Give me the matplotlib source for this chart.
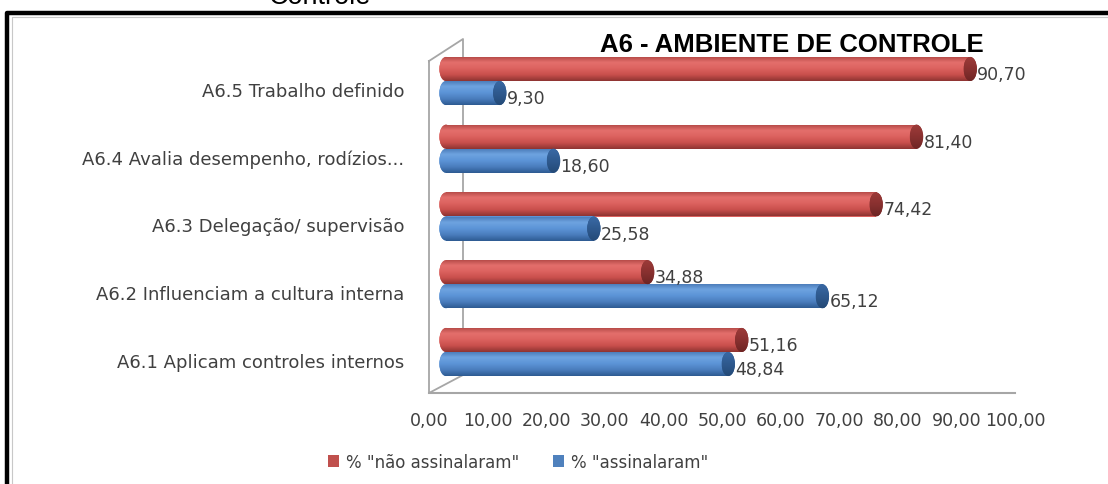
import numpy as np
import matplotlib
matplotlib.use("Agg")
import matplotlib.pyplot as plt
from matplotlib.patches import Ellipse, Patch
from matplotlib.lines import Line2D
from matplotlib.colors import to_rgb
from matplotlib.transforms import ScaledTranslation

# ---------------- data ----------------
categories = [
    "A6.1 Aplicam controles internos",
    "A6.2 Influenciam a cultura interna",
    "A6.3 Delegação/ supervisão",
    "A6.4 Avalia desempenho, rodízios...",
    "A6.5 Trabalho definido",
]
nao_assinalaram = [51.16, 34.88, 74.42, 81.40, 90.70]
assinalaram = [48.84, 65.12, 25.58, 18.60, 9.30]
series_names = ['% "não assinalaram"', '% "assinalaram"']
x_ticks = [0, 10, 20, 30, 40, 50, 60, 70, 80, 90, 100]
title = "A6 - AMBIENTE DE CONTROLE"
top_text = "Controle"

# ---------------- layout ----------------
W, H = 1108, 485
DPI = 100
fig = plt.figure(figsize=(W / DPI, H / DPI), dpi=DPI)
fig.patch.set_facecolor("white")


def fx(x):
    return x / W


def fy(y):
    return 1 - y / H


RED = "#C0504D"
BLUE = "#4F81BD"
red_stops = ["#B04643", "#E46F6C", "#DC625F", "#C94F4C", "#8E3432"]
blue_stops = ["#4777B4", "#6EA3E0", "#5C94D7", "#4A7DBD", "#2E5B92"]
red_cap = ["#9E3C3A", "#8A3130", "#6E2524"]
blue_cap = ["#3A6AA6", "#2F5A8F", "#244A77"]


def gradient(stops, n=64):
    cols = np.array([to_rgb(c) for c in stops])
    pos = np.linspace(0, 1, len(stops))
    t = np.linspace(0, 1, n)
    arr = np.stack([np.interp(t, pos, cols[:, k]) for k in range(3)], axis=1)
    return arr[:, None, :]


# main (bars) axes: x=0 -> px 446, x=100 -> px 1024; y group centres 353 .. 82
scale = (1024 - 446) / 100.0
xmin = -1.4
ax_left, ax_right = 446 + xmin * scale, 1024
ylo, yhi = -0.6, 4.6
pitch = 67.75
y0px = 353
top_px = y0px - pitch * yhi
bot_px = y0px - pitch * ylo
ax = fig.add_axes([fx(ax_left), fy(bot_px), (ax_right - ax_left) / W, (bot_px - top_px) / H])
ax.set_facecolor("none")
for s in ax.spines.values():
    s.set_visible(False)
ax.set_xticks([])

bar_h = 0.355
rx = 1.15  # half-width of end caps in data units

# 3D side wall and floor (decoration)
wall = [(429, 62), (463, 40), (463, 376), (429, 394), (429, 62)]
fig.add_artist(Line2D([fx(p[0]) for p in wall], [fy(p[1]) for p in wall],
                      color="#A6A6A6", lw=1.3, transform=fig.transFigure, zorder=0))

# floor axis with tick labels
ax2 = fig.add_axes([fx(429), fy(394), (1015 - 429) / W, 0.5 / H], zorder=-1)
ax2.set_xlim(0, 100)
ax2.patch.set_visible(False)
for k in ["top", "left", "right"]:
    ax2.spines[k].set_visible(False)
ax2.spines["bottom"].set_color("#A6A6A6")
ax2.spines["bottom"].set_linewidth(1.5)
ax2.set_yticks([])
ax2.set_xticks(x_ticks)
ax2.set_xticklabels([f"{t:.2f}".replace(".", ",") for t in x_ticks],
                    fontsize=12.5, color="#404040", family="DejaVu Sans")
ax2.tick_params(axis="x", length=0, pad=13)

ypos = np.arange(len(categories))


def draw_cylinders(values, offset, stops, capcols, label):
    grad = gradient(stops)
    capgrad = gradient(capcols)
    bars = ax.barh(ypos + offset, values, height=bar_h, color=stops[2],
                   edgecolor="none", label=label, zorder=2)
    for b, v in zip(bars, values):
        yb = b.get_y()
        yc = yb + bar_h / 2
        # left rounded end
        le = Ellipse((0, yc), 2 * rx, bar_h, facecolor=stops[2], edgecolor="none", zorder=2)
        ax.add_patch(le)
        im = ax.imshow(grad, extent=(-rx, v, yb, yb + bar_h), aspect="auto",
                       interpolation="bilinear", zorder=2.1)
        im.set_clip_path(le)
        im2 = ax.imshow(grad, extent=(-rx, v, yb, yb + bar_h), aspect="auto",
                        interpolation="bilinear", zorder=2.2)
        im2.set_clip_path(b)
        # right end cap
        re = Ellipse((v, yc), 2 * rx, bar_h, facecolor=capcols[1], edgecolor="none", zorder=2.3)
        ax.add_patch(re)
        im3 = ax.imshow(capgrad, extent=(v - rx, v + rx, yb, yb + bar_h), aspect="auto",
                        interpolation="bilinear", zorder=2.4)
        im3.set_clip_path(re)
        ax.annotate(f"{v:.2f}".replace(".", ","), xy=(v, yc), xytext=(7, -5),
                    textcoords="offset pixels", ha="left", va="center",
                    fontsize=12.5, color="#404040", family="DejaVu Sans", zorder=5)
    return bars


bars_red = draw_cylinders(nao_assinalaram, bar_h / 2, red_stops, red_cap, series_names[0])
bars_blue = draw_cylinders(assinalaram, -bar_h / 2, blue_stops, blue_cap, series_names[1])
ax.set_xlim(xmin, 100)
ax.set_ylim(ylo, yhi)

ax.set_yticks(ypos)
ax.set_yticklabels(categories, fontsize=13, color="#404040", family="DejaVu Sans")
ax.tick_params(axis="y", length=0, pad=24)
shift = ScaledTranslation(0, -8 / DPI, fig.dpi_scale_trans)
for lab in ax.get_yticklabels():
    lab.set_transform(lab.get_transform() + shift)

# title
fig.text(fx(792), fy(45), title, ha="center", va="center", fontsize=18.5,
         fontweight="bold", family="Liberation Sans", color="black")

# cut-off text at the very top (only its lower part is visible in the reference)
fig.text(fx(320), fy(4.5), top_text, ha="center", va="baseline", fontsize=19.5,
         family="Liberation Sans", color="black")

# legend
handles = [Patch(facecolor=RED, edgecolor="none"), Patch(facecolor=BLUE, edgecolor="none")]
fig.legend(handles, series_names, loc="center", bbox_to_anchor=(fx(518), fy(463)),
           ncol=2, frameon=False, handlelength=0.7, handleheight=0.7,
           handletextpad=0.4, columnspacing=2.0,
           prop={"family": "DejaVu Sans", "size": 12})
for t in fig.legends[0].get_texts():
    t.set_color("#404040")

# outer frame (black, clipped at right and bottom)
fig.add_artist(Line2D([fx(7), fx(7), fx(W + 5)], [fy(H + 5), fy(13.5), fy(13.5)],
                      color="black", lw=3.2, transform=fig.transFigure, zorder=10))
fig.add_artist(Line2D([fx(11.5), fx(11.5), fx(W + 5)], [fy(H + 5), fy(17.5), fy(17.5)],
                      color="#C8C8C8", lw=0.8, transform=fig.transFigure, zorder=10))

fig.savefig("out.png", dpi=DPI)
